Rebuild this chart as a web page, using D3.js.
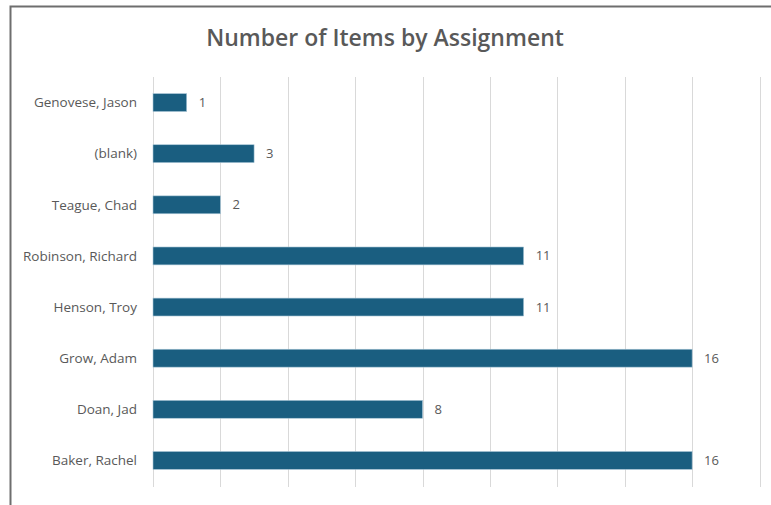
<!DOCTYPE html>
<html>
<head>
<meta charset="utf-8">
<script src="https://cdn.jsdelivr.net/npm/d3@7"></script>
<style>
  body { margin: 0; background: #fff; }
  text { font-family: "Open Sans", sans-serif; fill: #595959; }
</style>
</head>
<body>
<svg id="chart" width="771" height="505"></svg>
<script>
var names = ["Genovese, Jason", "(blank)", "Teague, Chad", "Robinson, Richard",
    "Henson, Troy", "Grow, Adam", "Doan, Jad", "Baker, Rachel"];
var counts = [1, 3, 2, 11, 11, 16, 8, 16];
var xTicks = [0, 2, 4, 6, 8, 10, 12, 14, 16, 18];

var plotLeft = 153, plotRight = 759.5, plotTop = 77, plotBottom = 486;

var svg = d3.select("#chart");

// outer chart border (runs off the right and bottom edges)
svg.append("rect")
    .attr("x", 10.5).attr("y", 6.5)
    .attr("width", 800).attr("height", 600)
    .attr("fill", "none")
    .attr("stroke", "#6e6e6e")
    .attr("stroke-width", 2);

svg.append("text")
    .attr("x", 385).attr("y", 46)
    .attr("text-anchor", "middle")
    .style("font-size", "23px")
    .style("font-weight", 600)
    .text("Number of Items by Assignment");

var x = d3.scaleLinear().domain([0, 18]).range([plotLeft, plotRight]);
var y = d3.scaleBand().domain(names).range([plotTop, plotBottom])
    .paddingInner(0.65).paddingOuter(0.325);

svg.append("g").selectAll("line")
    .data(xTicks)
    .enter().append("line")
        .attr("x1", function(d) { return Math.round(x(d)) + 0.5; })
        .attr("x2", function(d) { return Math.round(x(d)) + 0.5; })
        .attr("y1", plotTop).attr("y2", plotBottom + 1)
        .attr("stroke", "#d9d9d9")
        .attr("stroke-width", 1);

var bars = svg.append("g").selectAll("g")
    .data(counts)
    .enter().append("g");

bars.append("rect")
    .attr("x", x(0))
    .attr("y", function(d, i) { return y(names[i]); })
    .attr("height", y.bandwidth())
    .attr("width", function(d) { return x(d) - x(0); })
    .attr("fill", "#1a5e80")
    .attr("stroke", "#a9c6d6")
    .attr("stroke-width", 0.6);

bars.append("text")
    .attr("x", function(d) { return x(d) + 12; })
    .attr("y", function(d, i) { return y(names[i]) + y.bandwidth() / 2; })
    .attr("dy", "0.35em")
    .style("font-size", "13px")
    .text(function(d) { return d; });

svg.append("g").selectAll("text")
    .data(names)
    .enter().append("text")
        .attr("x", 137)
        .attr("y", function(d) { return y(d) + y.bandwidth() / 2; })
        .attr("dy", "0.35em")
        .attr("text-anchor", "end")
        .style("font-size", "13.5px")
        .text(function(d) { return d; });
</script>
</body>
</html>
